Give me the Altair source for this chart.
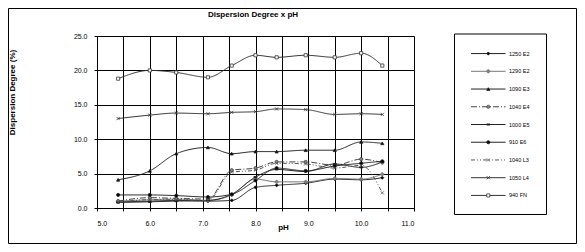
import altair as alt
import pandas as pd

ph = [5.4, 6.0, 6.5, 7.1, 7.55, 8.0, 8.4, 8.95, 9.5, 10.0, 10.4]
series_names = ["1250 E2", "1290 E2", "1090 E3", "1040 E4", "1000 E5",
                "910 E6", "1040 L3", "1050 L4", "940 FN"]

s_1250_e2 = [0.9, 1.0, 1.1, 1.0, 1.1, 3.0, 3.3, 3.6, 4.2, 4.1, 4.4]
s_1290_e2 = [1.0, 1.2, 1.3, 1.1, 1.9, 4.2, 3.8, 3.8, 4.3, 4.2, 4.9]
s_1090_e3 = [4.1, 5.4, 7.9, 8.8, 7.9, 8.2, 8.2, 8.4, 8.4, 9.6, 9.4]
s_1040_e4 = [1.0, 1.5, 1.4, 1.3, 5.5, 5.8, 6.7, 6.7, 6.2, 7.1, 6.6]
s_1000_e5 = [0.8, 0.9, 1.0, 1.1, 2.0, 4.5, 5.6, 5.3, 6.4, 5.9, 6.7]
s_910_e6 = [1.9, 1.9, 1.8, 1.6, 2.0, 4.0, 5.8, 5.4, 6.1, 6.5, 6.8]
s_1040_l3 = [0.8, 1.2, 1.2, 1.1, 5.2, 5.5, 6.5, 6.4, 5.8, 6.2, 2.2]
s_1050_l4 = [13.0, 13.5, 13.8, 13.7, 13.9, 14.0, 14.4, 14.3, 13.6, 13.7, 13.6]
s_940_fn = [18.8, 20.0, 19.7, 19.0, 20.7, 22.2, 21.9, 22.2, 21.9, 22.5, 20.7]

all_series = [s_1250_e2, s_1290_e2, s_1090_e3, s_1040_e4, s_1000_e5,
              s_910_e6, s_1040_l3, s_1050_l4, s_940_fn]

line_colors = ["#222222", "#777777", "#222222", "#444444", "#222222",
               "#222222", "#555555", "#333333", "#333333"]
fill_colors = ["#000000", "#888888", "#000000", "#888888", "#000000",
               "#000000", "#000000", "#000000", "#ffffff"]
dashes = [[1, 0], [1, 0], [1, 0], [6, 2, 1, 2], [1, 0], [1, 0],
          [4, 2, 1, 2, 1, 2], [1, 0], [1, 0]]
XSHAPE = "M-1,-1L1,1M-1,1L1,-1"
shapes = ["diamond", "cross", "triangle-up", "circle", "M-1,-0.35H1V0.35H-1Z",
          "circle", XSHAPE, XSHAPE, "square"]

title_text = ["Dispersion Degree x pH"]

rows = []
for name, vals in zip(series_names, all_series):
    for p, v in zip(ph, vals):
        rows.append({"pH": p, "value": v, "series": name})
df = pd.DataFrame(rows)

FONT = "Liberation Sans"
W, H = 317, 172

color_scale = alt.Scale(domain=series_names, range=line_colors)
fill_scale = alt.Scale(domain=series_names, range=fill_colors)
dash_scale = alt.Scale(domain=series_names, range=dashes)
shape_scale = alt.Scale(domain=series_names, range=shapes)

x_enc = alt.X(
    "pH:Q",
    scale=alt.Scale(domain=[5, 11], nice=False, zero=False),
    axis=alt.Axis(
        values=[5 + 0.5 * i for i in range(13)],
        labelExpr="datum.value % 1 == 0 ? format(datum.value, '.1f') : ''",
        title="pH", titleX=186, titleY=19, titleBaseline="middle",
        titleAlign="center", titleFontSize=8, titleFontWeight="bold",
        labelFontSize=7, labelPadding=8, tickSize=3, tickColor="black",
        domainColor="black", gridColor="black", gridOpacity=1, grid=True,
        labelColor="black", titleColor="black", labelFont=FONT, titleFont=FONT,
        labelOverlap=False,
    ),
)
y_enc = alt.Y(
    "value:Q",
    scale=alt.Scale(domain=[0, 25], nice=False),
    axis=alt.Axis(
        values=[0, 5, 10, 15, 20, 25], format=".1f",
        title="Dispersion Degree (%)", titleX=-85, titleY=56,
        titleAngle=-90, titleAlign="center", titleBaseline="middle",
        titleFontSize=8, titleFontWeight="bold",
        labelFontSize=7, labelPadding=7, tickSize=3, tickColor="black",
        domainColor="black", gridColor="black", gridOpacity=1, grid=True,
        labelColor="black", titleColor="black", labelFont=FONT, titleFont=FONT,
        labelOverlap=False,
    ),
)

lines = alt.Chart(df).mark_line(interpolate="monotone", strokeWidth=1).encode(
    x=x_enc, y=y_enc,
    color=alt.Color("series:N", scale=color_scale, legend=None),
    strokeDash=alt.StrokeDash("series:N", scale=dash_scale, legend=None),
    detail="series:N",
)
points = alt.Chart(df).mark_point(size=10, strokeWidth=0.8, opacity=1).encode(
    x=x_enc, y=y_enc,
    shape=alt.Shape("series:N", scale=shape_scale, legend=None),
    fill=alt.Fill("series:N", scale=fill_scale, legend=None),
    stroke=alt.Stroke("series:N", scale=color_scale, legend=None),
)
main = alt.layer(lines, points)

frame_df = pd.DataFrame({"k": [0]})
border = alt.Chart(frame_df).mark_rect(filled=False, stroke="black", strokeWidth=1).encode(
    x=alt.value(-88.5), x2=alt.value(479.5), y=alt.value(-27.5), y2=alt.value(207.5)
)
legend_box = alt.Chart(frame_df).mark_rect(filled=False, stroke="black", strokeWidth=1).encode(
    x=alt.value(357.5), x2=alt.value(449.5), y=alt.value(-2), y2=alt.value(178.5)
)
title_df = pd.DataFrame({"t": title_text})
title_mark = alt.Chart(title_df).mark_text(
    align="center", baseline="alphabetic", fontSize=8, fontWeight="bold",
    font=FONT, color="black"
).encode(x=alt.value(156), y=alt.value(-19.5), text="t:N")

leg_df = pd.DataFrame({"series": series_names})
leg_y = alt.Y("series:N", sort=series_names, axis=None,
              scale=alt.Scale(type="point", domain=series_names, range=[8.7, 168.3]))
leg_rule = alt.Chart(leg_df).mark_rule(strokeWidth=1).encode(
    x=alt.value(374), x2=alt.value(408.5), y=leg_y,
    color=alt.Color("series:N", scale=color_scale, legend=None),
    strokeDash=alt.StrokeDash("series:N", scale=dash_scale, legend=None),
)
leg_pts = alt.Chart(leg_df).mark_point(size=10, strokeWidth=0.8, opacity=1).encode(
    x=alt.value(391.3), y=leg_y,
    shape=alt.Shape("series:N", scale=shape_scale, legend=None),
    fill=alt.Fill("series:N", scale=fill_scale, legend=None),
    stroke=alt.Stroke("series:N", scale=color_scale, legend=None),
)
leg_txt = alt.Chart(leg_df).mark_text(align="left", baseline="middle", fontSize=5.5,
                                      font=FONT, color="black").encode(
    x=alt.value(412), y=leg_y, text="series:N"
)
legend = alt.layer(leg_rule, leg_pts, leg_txt)

chart = alt.layer(border, title_mark, main, legend_box, legend).resolve_scale(
    y="independent"
).properties(
    width=W, height=H,
    autosize=alt.AutoSizeParams(type="none"),
    padding={"left": 89, "top": 28, "right": 163, "bottom": 36},
).configure_view(stroke="#808080", strokeWidth=1).configure(background="white")

chart.save("out.html", embed_options={"renderer": "svg", "actions": False})
